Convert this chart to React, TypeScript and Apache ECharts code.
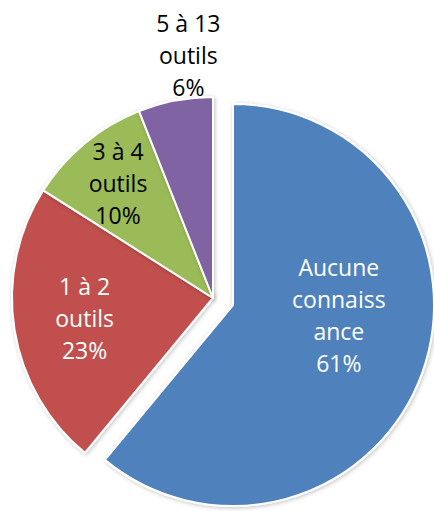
import React, { useEffect, useRef } from "react";
import * as echarts from "echarts";

const categories = ["Aucune connaissance", "1 à 2 outils", "3 à 4 outils", "5 à 13 outils"];
const values = [61, 23, 10, 6];
const wrappedLabels = ["Aucune\nconnaiss\nance", "1 à 2\noutils", "3 à 4\noutils", "5 à 13\noutils"];
const colors = ["#4F81BD", "#C0504D", "#9BBB59", "#8064A2"];
const labelColors = ["#ffffff", "#ffffff", "#000000", "#000000"];
const exploded = [true, false, false, false];

// label placement: distance from pie centre (px) and angle shift from bisector (deg)
const labelDist = [127, 130, 149, 244];
const labelShift = [-12, 0, 0, 5];

const CX = 213;
const CY = 298;
const R = 201;
const EXPLODE = 21;

export default function App() {
  const ref = useRef<HTMLDivElement>(null);
  useEffect(() => {
    if (!ref.current) return;
    document.body.style.margin = "0";
    document.body.style.overflow = "hidden";
    const chart = echarts.init(ref.current, undefined, { renderer: "svg" });
    const total = values.reduce((a, b) => a + b, 0);
    const bisectors: number[] = [];
    let acc = 0;
    values.forEach((v) => {
      const span = (v / total) * 360;
      bisectors.push(acc + span / 2);
      acc += span;
    });

    const idx = exploded.findIndex((e) => e);
    const b = (bisectors[idx] * Math.PI) / 180;

    const makeSeries = (showExploded: boolean) => {
      const center = showExploded
        ? [Math.round(CX + EXPLODE * Math.sin(b)), Math.round(CY - EXPLODE * Math.cos(b))]
        : [CX, CY];
      return {
        type: "pie",
        center,
        radius: [0, R],
        startAngle: 90,
        clockwise: true,
        silent: true,
        avoidLabelOverlap: false,
        label: {
          show: true,
          position: "inside",
          fontFamily: "Open Sans",
          fontSize: 23,
          lineHeight: 32,
          align: "center",
          formatter: (p: any) => `${wrappedLabels[p.dataIndex]}\n${Math.round(p.percent)}%`,
        },
        labelLine: { show: false },
        emphasis: { disabled: true },
        labelLayout: (p: any) => {
          const i = p.dataIndex;
          const a = ((bisectors[i] + labelShift[i]) * Math.PI) / 180;
          return {
            x: CX + labelDist[i] * Math.sin(a),
            y: CY - labelDist[i] * Math.cos(a),
            align: "center",
            verticalAlign: "middle",
          };
        },
        data: categories.map((name, i) => {
          const visible = exploded[i] === showExploded;
          return {
            name,
            value: values[i],
            itemStyle: visible
              ? {
                  color: colors[i],
                  borderColor: "#ffffff",
                  borderWidth: 2,
                  shadowBlur: 4,
                  shadowColor: "rgba(0,0,0,0.25)",
                  shadowOffsetX: 1,
                  shadowOffsetY: 1,
                }
              : { color: "rgba(0,0,0,0)", borderWidth: 0 },
            label: { show: visible, color: labelColors[i] },
          };
        }),
      };
    };

    chart.setOption({
      animation: false,
      backgroundColor: "#ffffff",
      tooltip: { show: false },
      series: [makeSeries(false), makeSeries(true)],
    });
    return () => chart.dispose();
  }, []);
  return <div ref={ref} style={{ width: 434, height: 511 }} />;
}
